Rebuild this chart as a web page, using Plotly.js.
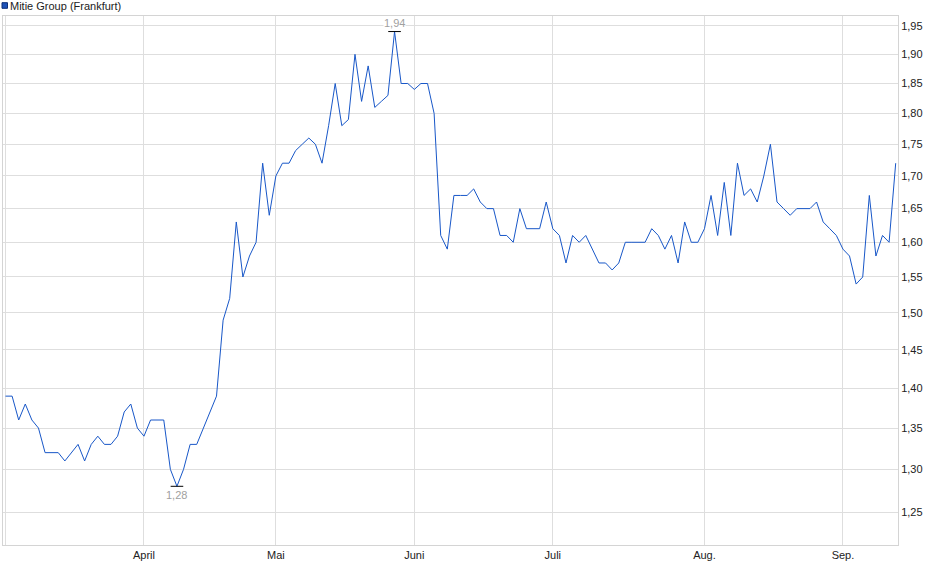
<!DOCTYPE html>
<html>
<head>
<meta charset="utf-8">
<script src="https://cdn.plot.ly/plotly-3.0.1.min.js"></script>
<style>
  html, body { margin: 0; padding: 0; background: #fff; }
  #chart { width: 940px; height: 579px; }
</style>
</head>
<body>
<div id="chart"></div>
<script>
// closing prices, one per trading day, starting 3 March
var prices = [
    1.39, 1.39, 1.36, 1.38, 1.36, 1.35, 1.32, 1.32, 1.32, 1.31,
    1.32, 1.33, 1.31, 1.33, 1.34, 1.33, 1.33, 1.34, 1.37, 1.38,
    1.35, 1.34, 1.36, 1.36, 1.36, 1.30, 1.28, 1.30, 1.33, 1.33,
    1.35, 1.37, 1.39, 1.49, 1.52, 1.63, 1.55, 1.58, 1.60, 1.72,
    1.64, 1.70, 1.72, 1.72, 1.74, 1.75, 1.76, 1.75, 1.72, 1.78,
    1.85, 1.78, 1.79, 1.90, 1.82, 1.88, 1.81, 1.82, 1.83, 1.94,
    1.85, 1.85, 1.84, 1.85, 1.85, 1.80, 1.61, 1.59, 1.67, 1.67,
    1.67, 1.68, 1.66, 1.65, 1.65, 1.61, 1.61, 1.60, 1.65, 1.62,
    1.62, 1.62, 1.66, 1.62, 1.61, 1.57, 1.61, 1.60, 1.61, 1.59,
    1.57, 1.57, 1.56, 1.57, 1.60, 1.60, 1.60, 1.60, 1.62, 1.61,
    1.59, 1.61, 1.57, 1.63, 1.60, 1.60, 1.62, 1.67, 1.61, 1.69,
    1.61, 1.72, 1.67, 1.68, 1.66, 1.70, 1.75, 1.66, 1.65, 1.64,
    1.65, 1.65, 1.65, 1.66, 1.63, 1.62, 1.61, 1.59, 1.58, 1.54,
    1.55, 1.67, 1.58, 1.61, 1.60, 1.72
];

// first trading day of each month (index into prices)
var monthIdx = [0, 21, 41, 62, 83, 106, 127];
var monthText = ['', 'April', 'Mai', 'Juni', 'Juli', 'Aug.', 'Sep.'];

var yTicks = [1.25, 1.30, 1.35, 1.40, 1.45, 1.50, 1.55, 1.60, 1.65, 1.70, 1.75, 1.80, 1.85, 1.90, 1.95];

var seriesName = 'Mitie Group (Frankfurt)';

var days = [];
for (let i = 0; i < prices.length; i++) {
    days.push(i);
}

var hi = Math.max.apply(null, prices);
var lo = Math.min.apply(null, prices);
var iHi = prices.indexOf(hi);
var iLo = prices.indexOf(lo);

// plot area in pixels: x 3..898, y 16..545
function px(x) { return (x - 3) / 895; }
function py(y) { return (545 - y) / 529; }

var line = {
    x: days,
    y: prices,
    type: 'scatter',
    mode: 'lines',
    line: {color: '#1857c8', width: 1},
    hoverinfo: 'none'
};

var extremes = {
    x: [iLo, iHi],
    y: [lo, hi],
    type: 'scatter',
    mode: 'markers',
    marker: {symbol: 'line-ew', size: 9, color: '#000', line: {color: '#000', width: 1}},
    hoverinfo: 'none'
};

var font = {family: '"Liberation Sans", Arial, sans-serif', size: 11, color: '#222'};

var layout = {
    width: 940,
    height: 579,
    margin: {l: 3, r: 42, t: 16, b: 34},
    paper_bgcolor: '#fff',
    plot_bgcolor: '#fff',
    showlegend: false,
    separators: ',.',
    font: font,
    xaxis: {
        type: 'linear',
        range: [-0.38, 135.35],
        tickvals: monthIdx,
        ticktext: monthText,
        showgrid: true,
        gridcolor: '#dedede',
        zeroline: false,
        showline: true,
        mirror: true,
        linecolor: '#d4d4d4',
        ticks: '',
        tickfont: font
    },
    yaxis: {
        type: 'log',
        side: 'right',
        range: [Math.log10(1.2131), Math.log10(1.9678)],
        tickvals: yTicks,
        tickformat: '.2f',
        showgrid: true,
        gridcolor: '#dedede',
        zeroline: false,
        showline: true,
        mirror: true,
        linecolor: '#d4d4d4',
        ticks: '',
        tickfont: font
    },
    shapes: [
        {type: 'rect', xref: 'paper', yref: 'paper',
         x0: px(2), x1: px(7.5), y0: py(8.3), y1: py(2.7),
         fillcolor: '#1d52b8', line: {color: '#0c2f78', width: 1}}
    ],
    annotations: [
        {xref: 'paper', yref: 'paper', x: px(8), y: py(6), xanchor: 'left', yanchor: 'middle',
         text: seriesName, showarrow: false, font: font},
        {x: iHi, y: Math.log10(hi), text: hi.toFixed(2).replace('.', ','), showarrow: false,
         yanchor: 'bottom', yshift: 2, bgcolor: '#fff', borderpad: 0,
         font: {family: font.family, size: 11, color: '#a0a0a0'}},
        {x: iLo, y: Math.log10(lo), text: lo.toFixed(2).replace('.', ','), showarrow: false,
         yanchor: 'top', yshift: -2, borderpad: 0,
         font: {family: font.family, size: 11, color: '#a0a0a0'}}
    ]
};

Plotly.newPlot('chart', [line, extremes], layout, {staticPlot: true, displayModeBar: false});
</script>
</body>
</html>
